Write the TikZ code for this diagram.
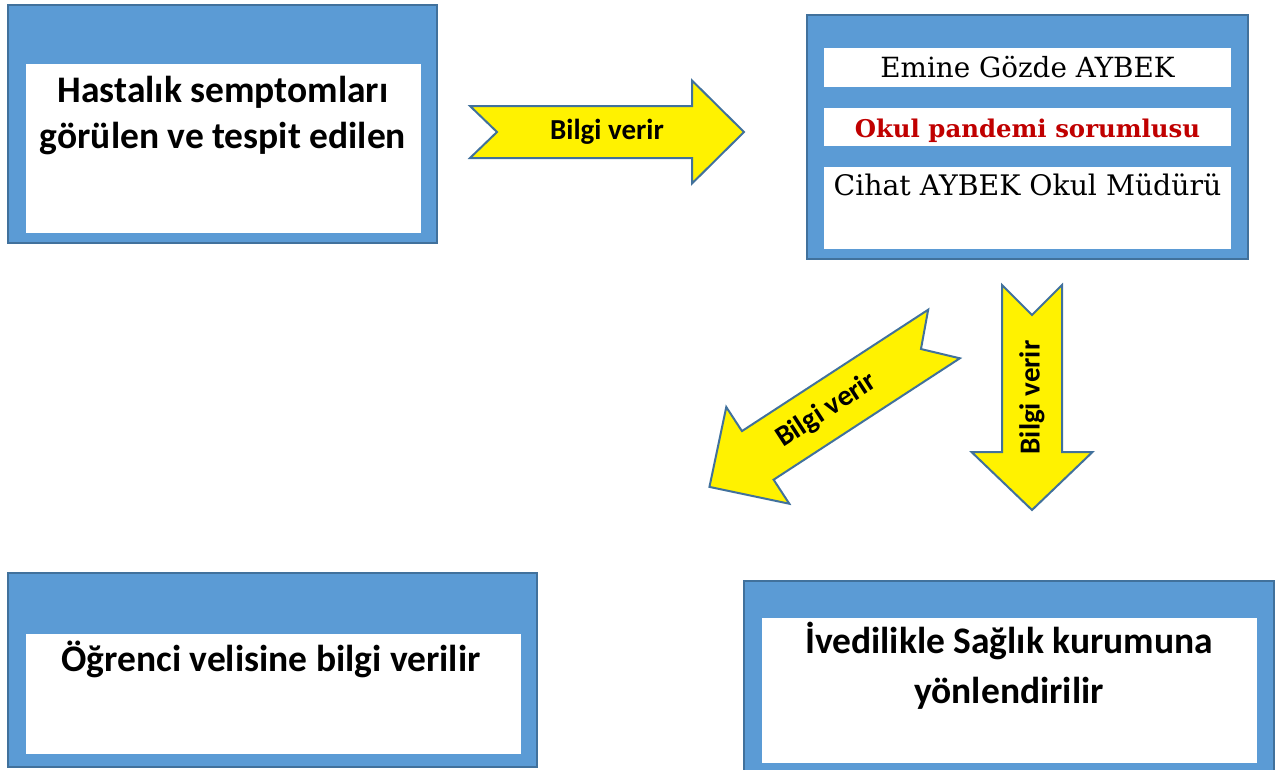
\documentclass[tikz,border=0pt]{standalone}
\usepackage{fontspec}
\newfontfamily\calibri{Carlito}
\newfontfamily\schoolbook{DejaVu Serif}
\usetikzlibrary{calc}
\definecolor{kutumavi}{HTML}{5B9BD5}
\definecolor{kenar}{HTML}{41719C}
\definecolor{koyukirmizi}{HTML}{C00000}
\tikzset{
  kutu/.style={fill=kutumavi, draw=kenar, line width=2pt},
  ickutu/.style={fill=white, draw=none},
  sariok/.style={fill=yellow, draw=kenar, line width=2pt, line join=miter},
  kututext/.style={font=\calibri\bfseries\fontsize{37.5}{46}\selectfont, align=center, inner sep=0pt},
  oktext/.style={font=\calibri\bfseries\fontsize{29}{32}\selectfont, inner sep=0pt},
  seriftext/.style={font=\schoolbook\fontsize{27.8}{32}\selectfont, inner sep=0pt, anchor=base}
}
% name, tail centre, angle : text angle, length : shaft half : head half : head length : notch
\def\bilgiok#1(#2)[#3:#4](#5:#6:#7:#8:#9){%
  \begin{scope}[shift={(#2)},rotate=#3]
    \draw[sariok] (0,-#6) -- ({#5-#8},-#6) -- ({#5-#8},-#7) -- (#5,0)
      -- ({#5-#8},#7) -- ({#5-#8},#6) -- (0,#6) -- (#9,0) -- cycle;
    \node[oktext,rotate=#4] (#1) at ({#5/2},0) {Bilgi verir};
  \end{scope}}

\begin{document}
\begin{tikzpicture}[x=1pt,y=-1pt]
	\useasboundingbox (0,0) rectangle (1285,769);
	
	%%%%% KUTULAR %%%%%
	
	\draw[kutu] (8,5) rectangle (437,243);
	\fill[ickutu] (26,64) rectangle (421,233);
	\node[kututext] (hasta) at (223,116) {Hastalık semptomları\\görülen ve tespit edilen};
	
	\draw[kutu] (807,15) rectangle (1248,259);
	\fill[ickutu] (824,48) rectangle (1231,87);
	\fill[ickutu] (824,108) rectangle (1231,146);
	\fill[ickutu] (824,167) rectangle (1231,249);
	\node[seriftext] (emine) at (1027.5,77) {Emine Gözde AYBEK};
	\node[seriftext, font=\schoolbook\bfseries\fontsize{24.4}{30}\selectfont, text=koyukirmizi] (pandemi) at (1027.5,137) {Okul pandemi sorumlusu};
	\node[seriftext, font=\schoolbook\fontsize{28.3}{32}\selectfont] (cihat) at (1027.5,195) {Cihat AYBEK Okul Müdürü};
	
	\draw[kutu] (8,573) rectangle (537,767);
	\fill[ickutu] (26,634) rectangle (521,754);
	\node[kututext, anchor=base] (veli) at (271,671) {Öğrenci velisine bilgi verilir};
	
	\draw[kutu] (744,581) rectangle (1274,790);
	\fill[ickutu] (762,618) rectangle (1257,763);
	\node[kututext, font=\calibri\bfseries\fontsize{37.5}{50}\selectfont] (saglik) at (1009,666) {İvedilikle Sağlık kurumuna\\yönlendirilir};
	
	%%%%% OKLAR %%%%%
	
	\bilgiok{ok1}(470,132)[0:0](274:26:51.5:52:27)
	\bilgiok{ok2}(944,334)[213.1:33.1](280:29:57.7:57.7:27.5)
	\bilgiok{ok3}(1032,285)[-90:90](225:30:60.5:58:30)
	
\end{tikzpicture}
\end{document}
